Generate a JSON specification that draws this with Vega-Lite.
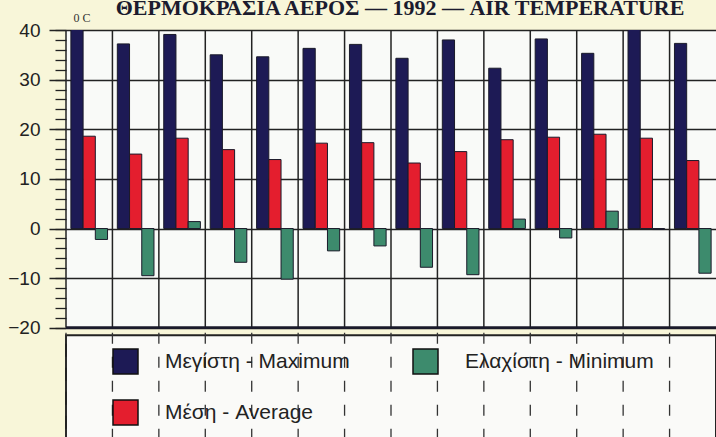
{
  "$schema": "https://vega.github.io/schema/vega-lite/v6.json",
  "width": 650,
  "height": 407,
  "autosize": {"type": "none"},
  "padding": {"left": 66, "top": 30, "right": 0, "bottom": 0},
  "background": "#f8f6d9",
  "config": {"view": {"fill": "#f9faf8", "stroke": null}},
  "title": {
    "text": "ΘΕΡΜΟΚΡΑΣΙΑ ΑΕΡΟΣ — 1992 — AIR TEMPERATURE",
    "font": "Liberation Serif",
    "fontSize": 22,
    "fontWeight": "bold",
    "color": "#1b1b2e",
    "anchor": "middle",
    "frame": "group",
    "baseline": "alphabetic",
    "offset": -26,
    "dx": 9
  },
  "data": {
    "values": [
      {"group": 1, "series": "Μεγίστη - Maximum", "value": 41},
      {"group": 2, "series": "Μεγίστη - Maximum", "value": 37.2},
      {"group": 3, "series": "Μεγίστη - Maximum", "value": 39.1},
      {"group": 4, "series": "Μεγίστη - Maximum", "value": 35.0},
      {"group": 5, "series": "Μεγίστη - Maximum", "value": 34.6},
      {"group": 6, "series": "Μεγίστη - Maximum", "value": 36.3},
      {"group": 7, "series": "Μεγίστη - Maximum", "value": 37.1},
      {"group": 8, "series": "Μεγίστη - Maximum", "value": 34.3},
      {"group": 9, "series": "Μεγίστη - Maximum", "value": 38.0},
      {"group": 10, "series": "Μεγίστη - Maximum", "value": 32.3},
      {"group": 11, "series": "Μεγίστη - Maximum", "value": 38.2},
      {"group": 12, "series": "Μεγίστη - Maximum", "value": 35.3},
      {"group": 13, "series": "Μεγίστη - Maximum", "value": 41},
      {"group": 14, "series": "Μεγίστη - Maximum", "value": 37.3},
      {"group": 1, "series": "Μέση - Average", "value": 18.6},
      {"group": 2, "series": "Μέση - Average", "value": 15.0},
      {"group": 3, "series": "Μέση - Average", "value": 18.2},
      {"group": 4, "series": "Μέση - Average", "value": 15.9},
      {"group": 5, "series": "Μέση - Average", "value": 13.9},
      {"group": 6, "series": "Μέση - Average", "value": 17.2},
      {"group": 7, "series": "Μέση - Average", "value": 17.3},
      {"group": 8, "series": "Μέση - Average", "value": 13.2},
      {"group": 9, "series": "Μέση - Average", "value": 15.5},
      {"group": 10, "series": "Μέση - Average", "value": 17.9},
      {"group": 11, "series": "Μέση - Average", "value": 18.4},
      {"group": 12, "series": "Μέση - Average", "value": 19.0},
      {"group": 13, "series": "Μέση - Average", "value": 18.2},
      {"group": 14, "series": "Μέση - Average", "value": 13.7},
      {"group": 1, "series": "Ελαχίστη - Minimum", "value": -2.2},
      {"group": 2, "series": "Ελαχίστη - Minimum", "value": -9.5},
      {"group": 3, "series": "Ελαχίστη - Minimum", "value": 1.4},
      {"group": 4, "series": "Ελαχίστη - Minimum", "value": -6.8},
      {"group": 5, "series": "Ελαχίστη - Minimum", "value": -10.2},
      {"group": 6, "series": "Ελαχίστη - Minimum", "value": -4.5},
      {"group": 7, "series": "Ελαχίστη - Minimum", "value": -3.5},
      {"group": 8, "series": "Ελαχίστη - Minimum", "value": -7.8},
      {"group": 9, "series": "Ελαχίστη - Minimum", "value": -9.3},
      {"group": 10, "series": "Ελαχίστη - Minimum", "value": 1.9},
      {"group": 11, "series": "Ελαχίστη - Minimum", "value": -1.9},
      {"group": 12, "series": "Ελαχίστη - Minimum", "value": 3.5},
      {"group": 13, "series": "Ελαχίστη - Minimum", "value": -0.2},
      {"group": 14, "series": "Ελαχίστη - Minimum", "value": -9.0}
    ]
  },
  "layer": [
    {
      "data": {"values": [{}]},
      "mark": {"type": "rect", "fill": "#f8f6d9"},
      "encoding": {
        "y": {
          "datum": -20,
          "type": "quantitative",
          "scale": {"domain": [-42, 40], "nice": false, "zero": false},
          "axis": {
            "orient": "left",
            "values": [-20, -18, -16, -14, -12, -10, -8, -6, -4, -2, 0, 2, 4, 6, 8, 10, 12, 14, 16, 18, 20, 22, 24, 26, 28, 30, 32, 34, 36, 38, 40],
            "tickSize": 11,
            "tickColor": "#222",
            "tickWidth": 1.3,
            "labels": false,
            "domain": false,
            "grid": false,
            "title": null
          }
        },
        "y2": {"datum": -45}
      }
    },
    {
      "data": {"values": [{}]},
      "mark": {"type": "rect", "fill": "#fafaf8", "stroke": "#222", "strokeWidth": 2},
      "encoding": {
        "y": {"datum": -21.5, "type": "quantitative", "scale": {"domain": [-42, 40], "nice": false, "zero": false}, "axis": null},
        "y2": {"datum": -45}
      }
    },
    {
      "mark": {"type": "bar", "clip": true, "stroke": "#1a1a2a", "strokeWidth": 1},
      "encoding": {
        "x": {
          "field": "group",
          "type": "ordinal",
          "axis": null,
          "scale": {"paddingInner": 0, "paddingOuter": 0}
        },
        "xOffset": {
          "field": "series",
          "type": "nominal",
          "scale": {
            "domain": ["Μεγίστη - Maximum", "Μέση - Average", "Ελαχίστη - Minimum"],
            "paddingInner": 0,
            "paddingOuter": 0.4
          }
        },
        "y": {
          "field": "value",
          "type": "quantitative",
          "scale": {"domain": [-42, 40], "nice": false, "zero": false},
          "axis": {
            "orient": "left",
            "values": [-20, -10, 0, 10, 20, 30, 40],
            "tickSize": 17,
            "tickColor": "#222",
            "tickWidth": 1.5,
            "labelPadding": 9,
            "labelFont": "Liberation Sans",
            "labelFontSize": 19,
            "labelColor": "#222",
            "domain": false,
            "grid": true,
            "gridColor": "#222",
            "gridWidth": 1.5,
            "title": "0 C",
            "titleAngle": 0,
            "titleX": 7,
            "titleY": -13,
            "titleAlign": "left",
            "titleBaseline": "middle",
            "titleFont": "Liberation Serif",
            "titleFontSize": 12,
            "titleFontWeight": "normal",
            "titleColor": "#333"
          }
        },
        "y2": {"datum": 0},
        "color": {
          "field": "series",
          "type": "nominal",
          "scale": {
            "domain": ["Μεγίστη - Maximum", "Μέση - Average", "Ελαχίστη - Minimum"],
            "range": ["#1d1a55", "#e41e2e", "#3d8b6d"]
          },
          "legend": {
            "orient": "none",
            "legendX": 46,
            "legendY": 318,
            "columns": 2,
            "columnPadding": 60,
            "rowPadding": 20,
            "padding": 0,
            "title": null,
            "symbolType": "square",
            "symbolSize": 625,
            "symbolStrokeColor": "#111",
            "symbolStrokeWidth": 1.5,
            "symbolOpacity": 1,
            "labelFont": "Liberation Sans",
            "labelFontSize": 21,
            "labelColor": "#222",
            "labelOffset": 26,
            "labelLimit": 400
          }
        }
      }
    },
    {
      "transform": [{"filter": "datum.series === 'Μεγίστη - Maximum'"}],
      "mark": {"type": "rule", "color": "#222", "strokeWidth": 1.5},
      "encoding": {
        "x": {"field": "group", "type": "ordinal", "bandPosition": 0, "axis": null},
        "y": {"datum": 40, "type": "quantitative", "scale": {"domain": [-42, 40], "nice": false, "zero": false}, "axis": null},
        "y2": {"datum": -20}
      }
    },
    {
      "transform": [{"filter": "datum.series === 'Μεγίστη - Maximum'"}],
      "mark": {"type": "rule", "color": "#333", "strokeWidth": 1.3, "strokeDash": [11, 13]},
      "encoding": {
        "x": {"field": "group", "type": "ordinal", "bandPosition": 0, "axis": null},
        "y": {"datum": -21, "type": "quantitative", "scale": {"domain": [-42, 40], "nice": false, "zero": false}, "axis": null},
        "y2": {"datum": -45}
      }
    },
    {
      "data": {"values": [{}]},
      "mark": {"type": "rule", "color": "#1a1a2a", "strokeWidth": 3},
      "encoding": {
        "y": {"datum": -20, "type": "quantitative", "scale": {"domain": [-42, 40], "nice": false, "zero": false}, "axis": null}
      }
    }
  ],
  "resolve": {"axis": {"y": "independent"}}
}
